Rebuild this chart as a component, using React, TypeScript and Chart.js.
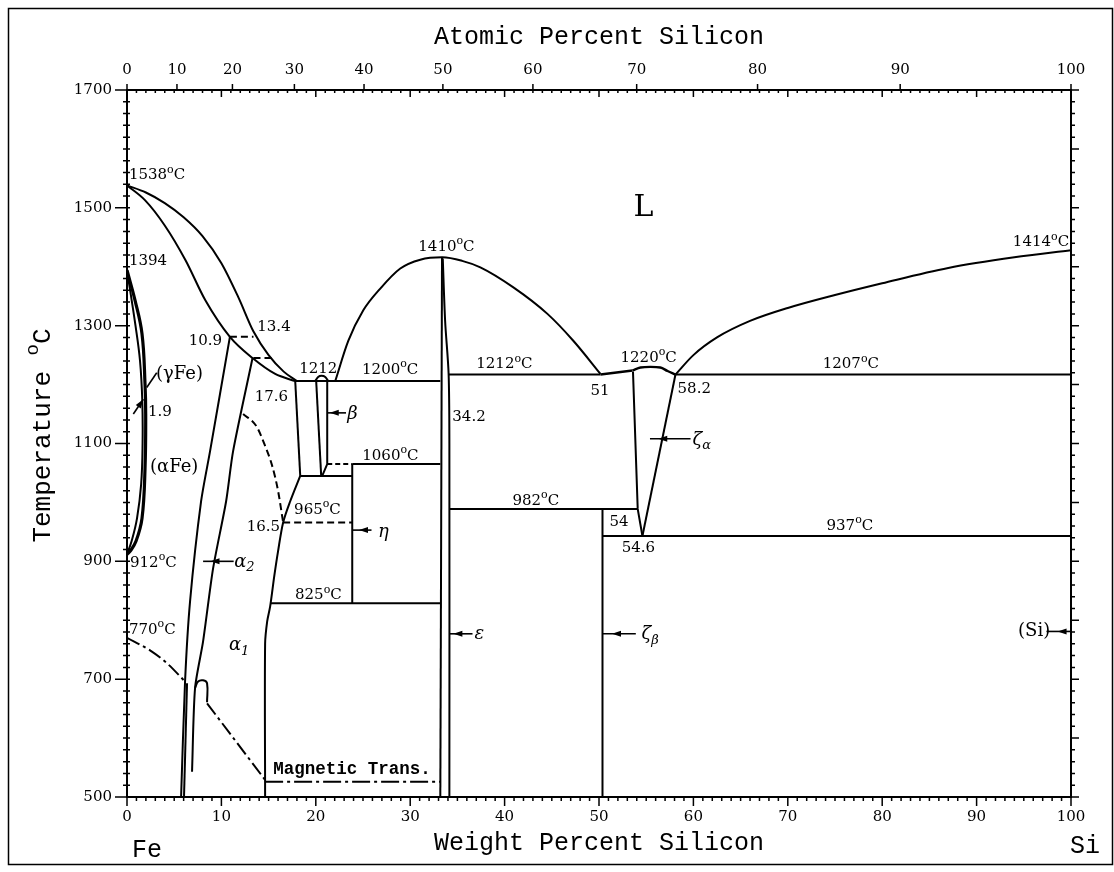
import React, { useEffect, useRef } from "react";
import { Chart, registerables } from "chart.js";
Chart.register(...registerables);

type Pt = [number, number];

// ---------- axes ----------
const weightTicks = [0, 10, 20, 30, 40, 50, 60, 70, 80, 90, 100];
const atomicTicks = [0, 10, 20, 30, 40, 50, 60, 70, 80, 90, 100];
const tempTicks = [500, 700, 900, 1100, 1300, 1500, 1700];
const M_FE = 55.845;
const M_SI = 28.0855;
const atToWt = (a: number) => (100 * a * M_SI) / (a * M_SI + (100 - a) * M_FE);

// ---------- boundaries (wt% Si, deg C) ----------
const liquidusFe: Pt[] = [[0, 1538], [2, 1526], [4, 1508], [6, 1484], [8, 1452], [10, 1406], [11.8, 1348], [13.4, 1290], [15.0, 1250], [16.6, 1222], [18.0, 1206]];
const solidusFe: Pt[] = [[0, 1538], [1.9, 1513], [4.0, 1470], [6.2, 1411], [8.3, 1343], [10.9, 1281], [13.3, 1245], [15.7, 1218], [17.8, 1206]];
const tieLine1: Pt[] = [[10.9, 1281], [13.4, 1281]];
const tieLine2: Pt[] = [[13.4, 1245], [15.3, 1245]];
const alphaLine1: Pt[] = [[10.9, 1281], [8.8, 1087], [7.85, 1002], [6.68, 832], [6.15, 696], [5.73, 500]];
const alphaLine1b: Pt[] = [[6.36, 693], [6.04, 500]];
const alphaLine2: Pt[] = [[13.3, 1245], [11.24, 1087], [10.5, 1002], [9.12, 888], [8.06, 764], [7.21, 685], [6.89, 543]];
const orderLoop: Pt[] = [[7.21, 685], [7.53, 696], [8.06, 698], [8.48, 693], [8.48, 661]];
const magnetic1: Pt[] = [[0, 770], [2.44, 749], [4.24, 727], [6.15, 696]];
const magnetic2: Pt[] = [[8.48, 659], [14.63, 529]];
const magneticTrans: Pt[] = [[14.63, 526], [33.19, 526]];
const gammaOuter: Pt[] = [[0, 1394], [0.85, 1343], [1.59, 1286], [1.91, 1201], [1.98, 1150], [1.91, 1058], [1.59, 973], [0.95, 934], [0.32, 917], [0, 912]];
const gammaInner: Pt[] = [[0, 1394], [0.9, 1300], [1.38, 1240], [1.62, 1172], [1.65, 1100], [1.5, 1031], [1.06, 973], [0.5, 935], [0, 912]];

const eutectic1200: Pt[] = [[17.8, 1206], [33.19, 1206]];
const line176: Pt[] = [[17.82, 1206], [18.35, 1045]];
const box1045: Pt[] = [[18.35, 1045], [23.86, 1045]];
const betaLeft: Pt[] = [[20.04, 1206], [20.57, 1045]];
const betaRight: Pt[] = [[21.21, 1206], [21.21, 1065], [20.68, 1045]];
const betaTop: Pt[] = [[19.94, 1206], [20.25, 1213], [20.6, 1215], [21.0, 1213], [21.31, 1206]];
const line1060dash: Pt[] = [[21.21, 1065], [23.86, 1065]];
const line1060: Pt[] = [[23.86, 1065], [33.19, 1065]];
const etaLine: Pt[] = [[23.86, 1065], [23.86, 829]];
const alpha1Bound: Pt[] = [[14.63, 500], [14.63, 760], [14.85, 798], [15.16, 823], [15.6, 875], [16.0, 917], [16.54, 966], [17.29, 1002], [18.35, 1045]];
const orderDash: Pt[] = [[12.3, 1150], [13.68, 1130], [14.63, 1096], [15.38, 1062], [16.01, 1019], [16.54, 966]];
const line965: Pt[] = [[16.54, 966], [23.86, 966]];
const line825: Pt[] = [[15.16, 829], [33.19, 829]];

const epsLeft: Pt[] = [[33.37, 1416], [33.19, 500]];
const epsRight: Pt[] = [[33.45, 1414], [33.7, 1308], [34.07, 1218], [34.15, 1100], [34.15, 500]];
const dome: Pt[] = [[22.06, 1206], [23.44, 1274], [25.03, 1326], [26.83, 1363], [28.95, 1397], [31.07, 1412], [33.4, 1416], [35.5, 1410], [37.43, 1399], [40.93, 1365], [44.54, 1320], [47.3, 1274], [50.16, 1218]];

const line1212: Pt[] = [[34.1, 1217], [50.16, 1217]];
const line51: Pt[] = [[50.16, 1217], [53.55, 1224]];
const zetaTop: Pt[] = [[53.55, 1224], [54.4, 1229], [55.46, 1230], [56.5, 1229], [57.26, 1223], [58.1, 1217]];
const zetaLeft: Pt[] = [[53.6, 1222], [54.1, 989], [54.6, 943]];
const zetaRight: Pt[] = [[58.1, 1217], [54.6, 943]];
const line982: Pt[] = [[34.15, 989], [54.1, 989]];
const zetaBeta: Pt[] = [[50.37, 989], [50.37, 500]];
const line937: Pt[] = [[50.37, 943], [100, 943]];
const line1207: Pt[] = [[58.1, 1217], [100, 1217]];
const liquidusSi: Pt[] = [[58.1, 1217], [60, 1250], [62.5, 1280], [66, 1308], [70, 1330], [75, 1352], [80, 1372], [87, 1398], [94, 1416], [100, 1428]];

// ---------- annotations ----------
type Lab = [string, number, number, CanvasTextAlign];
const tempLabels: Lab[] = [
  ["1538^oC", 0.2, 1555, "left"],
  ["1394", 0.2, 1409, "left"],
  ["1410^oC", 30.86, 1434, "left"],
  ["1414^oC", 99.8, 1441, "right"],
  ["1212", 18.24, 1227, "left"],
  ["1200^oC", 24.9, 1225, "left"],
  ["1212^oC", 37.0, 1234, "left"],
  ["1220^oC", 52.28, 1245, "left"],
  ["1207^oC", 73.7, 1234, "left"],
  ["1060^oC", 24.92, 1079, "left"],
  ["982^oC", 40.83, 1002, "left"],
  ["937^oC", 74.1, 960, "left"],
  ["965^oC", 17.7, 987, "left"],
  ["912^oC", 0.32, 897, "left"],
  ["825^oC", 17.8, 842, "left"],
  ["770^oC", 0.2, 784, "left"],
];
const compLabels: Lab[] = [
  ["10.9", 10.07, 1274, "right"],
  ["13.4", 13.8, 1297, "left"],
  ["17.6", 17.07, 1179, "right"],
  ["1.9", 2.23, 1154, "left"],
  ["34.2", 34.46, 1145, "left"],
  ["51", 49.1, 1189, "left"],
  ["58.2", 58.32, 1193, "left"],
  ["54", 51.1, 966, "left"],
  ["54.6", 52.4, 922, "left"],
  ["16.5", 16.22, 958, "right"],
];
const phaseLabels: Lab[] = [
  ["(γFe)", 3.07, 1218, "left"],
  ["(αFe)", 2.44, 1060, "left"],
  ["β", 23.33, 1150, "left"],
  ["η", 26.6, 950, "left"],
  ["ζ_α", 59.9, 1106, "left"],
  ["α_2", 11.35, 899, "left"],
  ["α_1", 10.8, 757, "left"],
  ["ε", 36.8, 776, "left"],
  ["ζ_β", 54.5, 776, "left"],
  ["(Si)", 97.8, 781, "right"],
];
const liquidLabel: Lab = ["L", 54.7, 1499, "center"];
const magneticLabel: Lab = ["Magnetic Trans.", 15.5, 546, "left"];
// horizontal pointers: [from wt, to wt, temperature, arrow head wt]
const pointers: [number, number, number, number][] = [
  [8.06, 11.3, 900, 9.27],
  [21.21, 23.2, 1152, 21.9],
  [23.86, 25.9, 953, 25.0],
  [55.4, 59.7, 1108, 56.7],
  [34.15, 36.6, 777, 35.0],
  [50.37, 53.9, 777, 51.8],
  [97.4, 100, 781, 99.0],
];
const gammaLeader: Pt[] = [[3.15, 1220], [2.09, 1195]];
const gammaArrow: Pt[] = [[0.67, 1150], [1.73, 1175]];

const SERIF = '"DejaVu Serif"';
const MONO = '"Liberation Mono"';

function drawRich(ctx: CanvasRenderingContext2D, text: string, x: number, y: number, align: CanvasTextAlign, size: number, family: string, style = "") {
  const parts: { t: string; f: string; dy: number }[] = [];
  let i = 0;
  while (i < text.length) {
    const c = text[i];
    if ((c === "^" || c === "_") && i + 1 < text.length) {
      const small = Math.round(size * 0.74);
      parts.push({ t: text[i + 1], f: `${style} ${small}px ${family}`, dy: c === "^" ? -size * 0.38 : size * 0.32 });
      i += 2;
    } else {
      let j = i;
      while (j < text.length && text[j] !== "^" && text[j] !== "_") j++;
      parts.push({ t: text.slice(i, j), f: `${style} ${size}px ${family}`, dy: 0 });
      i = j;
    }
  }
  let total = 0;
  const widths = parts.map((p) => {
    ctx.font = p.f;
    const w = ctx.measureText(p.t).width;
    total += w;
    return w;
  });
  let cx = align === "right" ? x - total : align === "center" ? x - total / 2 : x;
  ctx.textAlign = "left";
  ctx.textBaseline = "middle";
  parts.forEach((p, k) => {
    ctx.font = p.f;
    ctx.fillText(p.t, cx, y + p.dy);
    cx += widths[k];
  });
}

const decorPlugin = {
  id: "decor",
  afterDraw(chart: any) {
    const ctx: CanvasRenderingContext2D = chart.ctx;
    const { left, right, top, bottom } = chart.chartArea;
    const xs = chart.scales.x;
    const ys = chart.scales.y;
    const X = (v: number) => xs.getPixelForValue(v);
    const Y = (v: number) => ys.getPixelForValue(v);
    ctx.save();
    ctx.strokeStyle = "#000";
    ctx.fillStyle = "#000";
    // plot frame
    ctx.lineWidth = 2;
    ctx.strokeRect(left, top, right - left, bottom - top);
    // ticks
    ctx.lineWidth = 1.5;
    ctx.beginPath();
    for (let w = 0; w <= 100; w++) {
      const px = X(w);
      const major = w % 10 === 0;
      ctx.moveTo(px, bottom);
      ctx.lineTo(px, bottom + (major ? 9 : 4));
      ctx.moveTo(px, top);
      ctx.lineTo(px, top + (major ? 7 : 3));
    }
    for (const a of atomicTicks) {
      const px = X(atToWt(a));
      ctx.moveTo(px, top);
      ctx.lineTo(px, top - 6);
    }
    for (let t = 500; t <= 1700; t += 20) {
      const py = Y(t);
      const major = t % 200 === 100;
      ctx.moveTo(left - (major ? 12 : 4), py);
      ctx.lineTo(left + 3, py);
      ctx.moveTo(right, py);
      ctx.lineTo(right + (t % 100 === 0 ? 8 : 4), py);
    }
    ctx.stroke();

    // pointers
    ctx.lineWidth = 1.6;
    for (const [a, b, t, h] of pointers) {
      const py = Y(t);
      ctx.beginPath();
      ctx.moveTo(X(a), py);
      ctx.lineTo(X(b), py);
      ctx.stroke();
      const hx = X(h);
      ctx.beginPath();
      ctx.moveTo(hx - 4, py);
      ctx.lineTo(hx + 5, py - 3);
      ctx.lineTo(hx + 5, py + 3);
      ctx.closePath();
      ctx.fill();
    }
    ctx.beginPath();
    ctx.moveTo(X(gammaLeader[0][0]), Y(gammaLeader[0][1]));
    ctx.lineTo(X(gammaLeader[1][0]), Y(gammaLeader[1][1]));
    ctx.stroke();
    {
      const x0 = X(gammaArrow[0][0]), y0 = Y(gammaArrow[0][1]);
      const x1 = X(gammaArrow[1][0]), y1 = Y(gammaArrow[1][1]);
      ctx.beginPath();
      ctx.moveTo(x0, y0);
      ctx.lineTo(x1, y1);
      ctx.stroke();
      const ang = Math.atan2(y1 - y0, x1 - x0);
      ctx.beginPath();
      ctx.moveTo(x1, y1);
      ctx.lineTo(x1 - 9 * Math.cos(ang) + 3 * Math.sin(ang), y1 - 9 * Math.sin(ang) - 3 * Math.cos(ang));
      ctx.lineTo(x1 - 9 * Math.cos(ang) - 3 * Math.sin(ang), y1 - 9 * Math.sin(ang) + 3 * Math.cos(ang));
      ctx.closePath();
      ctx.fill();
    }

    // labels
    for (const [t, w, T, al] of tempLabels) drawRich(ctx, t, X(w), Y(T), al, 15, SERIF);
    for (const [t, w, T, al] of compLabels) drawRich(ctx, t, X(w), Y(T), al, 15, SERIF);
    for (const [t, w, T, al] of phaseLabels) {
      const it = t.startsWith("(") ? "" : "italic";
      drawRich(ctx, t, X(w), Y(T), al, 18, SERIF, it);
    }
    drawRich(ctx, liquidLabel[0], X(liquidLabel[1]), Y(liquidLabel[2]), liquidLabel[3], 30, SERIF);
    drawRich(ctx, magneticLabel[0], X(magneticLabel[1]), Y(magneticLabel[2]), magneticLabel[3], 17.5, MONO, "bold");

    // axis titles
    const midX = (left + right) / 2;
    drawRich(ctx, "Atomic Percent Silicon", midX, top - 53, "center", 25, MONO);
    drawRich(ctx, "Weight Percent Silicon", midX, bottom + 46, "center", 25, MONO);
    drawRich(ctx, "Fe", left + 5, bottom + 53, "left", 25, MONO);
    drawRich(ctx, "Si", right - 1, bottom + 49, "left", 25, MONO);
    ctx.save();
    ctx.translate(43, (top + bottom) / 2 - 8);
    ctx.rotate(-Math.PI / 2);
    drawRich(ctx, "Temperature ^oC", 0, 0, "center", 26, MONO);
    ctx.restore();

    // outer frame
    ctx.lineWidth = 1.5;
    ctx.strokeRect(8.5, 8.5, 1104, 856);
    ctx.restore();
  },
};

const curve = (data: Pt[], opts: any = {}) => ({
  data: data.map(([x, y]) => ({ x, y })),
  showLine: true,
  borderColor: "#000",
  borderWidth: 2,
  pointRadius: 0,
  pointHoverRadius: 0,
  fill: false,
  tension: 0,
  ...opts,
});

export default function App() {
  const ref = useRef<HTMLCanvasElement>(null);
  useEffect(() => {
    if (!ref.current) return;
    const dash = { borderDash: [7, 4] };
    const dashDot = { borderDash: [14, 4, 3, 4] };
    const mono = { cubicInterpolationMode: "monotone" };
    const datasets = [
      curve(liquidusFe, mono),
      curve(solidusFe, mono),
      curve(tieLine1, dash),
      curve(tieLine2, dash),
      curve(alphaLine1, { tension: 0.25 }),
      curve(alphaLine1b),
      curve(alphaLine2, { tension: 0.25 }),
      curve(orderLoop, { tension: 0.4 }),
      curve(magnetic1, { ...dashDot, ...mono }),
      curve(magnetic2, dashDot),
      curve(magneticTrans, { borderDash: [18, 4, 3, 4] }),
      curve(gammaOuter, { tension: 0.4, borderWidth: 3.2 }),
      curve(gammaInner, { tension: 0.4 }),
      curve(eutectic1200),
      curve(line176),
      curve(box1045),
      curve(betaLeft),
      curve(betaRight),
      curve(betaTop, mono),
      curve(line1060dash, { borderDash: [5, 3] }),
      curve(line1060),
      curve(etaLine),
      curve(alpha1Bound, { tension: 0.3 }),
      curve(orderDash, { ...dash, ...mono }),
      curve(line965, dash),
      curve(line825),
      curve(epsLeft),
      curve(epsRight, { tension: 0.3 }),
      curve(dome, mono),
      curve(line1212),
      curve(line51, { borderWidth: 2.6 }),
      curve(zetaTop, { ...mono, borderWidth: 2.4 }),
      curve(zetaLeft),
      curve(zetaRight),
      curve(line982),
      curve(zetaBeta),
      curve(line937),
      curve(line1207),
      curve(liquidusSi, mono),
    ];
    const tickFont = { family: "DejaVu Serif", size: 15 };
    const chart = new Chart(ref.current, {
      type: "scatter",
      data: { datasets },
      options: {
        animation: false,
        responsive: false,
        events: [],
        layout: { padding: { left: 0, right: 43, top: 0, bottom: 0 } },
        plugins: { legend: { display: false }, tooltip: { enabled: false } },
        scales: {
          x: {
            type: "linear",
            position: "bottom",
            min: 0,
            max: 100,
            afterBuildTicks: (s: any) => { s.ticks = weightTicks.map((v) => ({ value: v })); },
            ticks: { color: "#000", font: tickFont, padding: 11, maxRotation: 0, autoSkip: false, callback: (v: any) => String(v) },
            grid: { display: false, drawTicks: false },
            border: { display: false },
            afterFit: (s: any) => { s.height = 75; },
          },
          x2: {
            type: "linear",
            position: "top",
            min: 0,
            max: 100,
            afterBuildTicks: (s: any) => { s.ticks = atomicTicks.map((a) => ({ value: atToWt(a) })); },
            ticks: {
              color: "#000",
              font: tickFont,
              padding: 11,
              maxRotation: 0,
              autoSkip: false,
              callback: (_v: any, i: number) => String(atomicTicks[i]),
            },
            grid: { display: false, drawTicks: false },
            border: { display: false },
            afterFit: (s: any) => { s.height = 90; },
          },
          y: {
            type: "linear",
            position: "left",
            min: 500,
            max: 1700,
            afterBuildTicks: (s: any) => { s.ticks = tempTicks.map((v) => ({ value: v })); },
            ticks: { color: "#000", font: tickFont, padding: 15, autoSkip: false, callback: (v: any) => String(v) },
            grid: { display: false, drawTicks: false },
            border: { display: false },
            afterFit: (s: any) => { s.width = 127; },
          },
        },
      },
      plugins: [decorPlugin],
    } as any);
    return () => chart.destroy();
  }, []);
  return (
    <div style={{ position: "absolute", left: 0, top: 0, width: 1114, height: 872, background: "#fff" }}>
      <canvas ref={ref} width={1114} height={872} style={{ width: 1114, height: 872, display: "block" }} />
    </div>
  );
}
